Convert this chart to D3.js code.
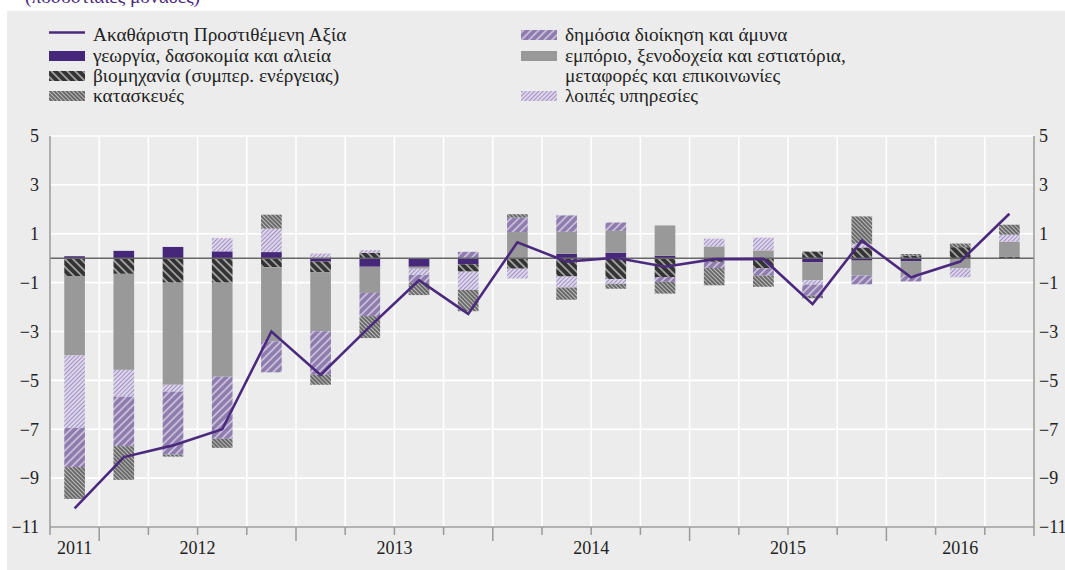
<!DOCTYPE html>
<html><head><meta charset="utf-8">
<script src="https://cdn.jsdelivr.net/npm/d3@7"></script>
<style>
body{margin:0;background:#fff;}
svg{display:block;}
</style>
</head><body>
<svg id="c" width="1065" height="570" font-family="Liberation Serif"></svg>
<script>
// ---- data ----
const quarters = ["2011Q4","2012Q1","2012Q2","2012Q3","2012Q4","2013Q1","2013Q2","2013Q3","2013Q4",
  "2014Q1","2014Q2","2014Q3","2014Q4","2015Q1","2015Q2","2015Q3","2015Q4","2016Q1","2016Q2","2016Q3"];
const years = ["2011","2012","2013","2014","2015","2016"];
const gva      = [-10.24,-8.14,-7.66,-7.0,-3.0,-4.78,-2.8,-0.9,-2.28,0.65,-0.14,0.02,-0.35,-0.04,-0.03,-1.88,0.72,-0.78,-0.14,1.82];
const agri     = [0.08,0.30,0.46,0.28,0.25,-0.14,-0.35,-0.35,-0.25,0,0.18,0.22,0.1,0,0,-0.16,-0.1,-0.12,0,0];
const industry = [-0.73,-0.64,-1.0,-1.0,-0.37,-0.43,0.22,0,-0.30,-0.43,-0.75,-0.85,-0.77,-0.15,-0.41,0.27,0.44,0.10,0.45,0.05];
const trade    = [-3.25,-3.93,-4.18,-3.85,-3.04,-2.42,-1.07,-0.08,0,1.07,0.9,0.9,1.24,0.48,0.32,-0.74,-0.61,-0.58,-0.41,0.63];
const other    = [-2.97,-1.1,-0.28,0.54,0.96,0.19,0.11,-0.26,-0.75,-0.4,-0.45,-0.2,0,0.32,0.52,-0.18,0.15,0,-0.37,0.28];
const publicAd = [-1.6,-2.02,-2.58,-2.54,-1.26,-1.78,-0.95,-0.32,0.26,0.59,0.67,0.34,-0.2,-0.25,-0.3,-0.46,-0.36,-0.25,0,0];
const constr   = [-1.3,-1.38,-0.08,-0.37,0.57,-0.41,-0.9,-0.5,-0.87,0.14,-0.5,-0.2,-0.48,-0.71,-0.46,-0.1,1.12,0.07,0.15,0.41];
const yTicks = [5,3,1,-1,-3,-5,-7,-9,-11];
const gvaName = "Ακαθάριστη Προστιθέμενη Αξία";
const seriesNames = {
  agri: "γεωργία, δασοκομία και αλιεία",
  industry: "βιομηχανία (συμπερ. ενέργειας)",
  constr: "κατασκευές",
  publicAd: "δημόσια διοίκηση και άμυνα",
  trade: ["εμπόριο, ξενοδοχεία και εστιατόρια,", "μεταφορές και επικοινωνίες"],
  other: "λοιπές υπηρεσίες"
};
const subtitle = "(ποσοστιαίες μονάδες)";

(function(){
const FF = "Liberation Serif";
const keys = ["agri","industry","trade","other","publicAd","constr"];
const table = quarters.map((q,i)=>({q, agri:agri[i], industry:industry[i], trade:trade[i], other:other[i], publicAd:publicAd[i], constr:constr[i]}));

const svg = d3.select("#c");
const W = 1065, H = 570;
const pL = 50, pR = 1034, pT = 136, pB = 527;

svg.append("text").attr("x",25).attr("y",2.5).attr("fill","#4b2a7e").attr("font-size",19.3)
  .attr("font-family",FF).text(subtitle);
svg.append("rect").attr("x",7).attr("y",11).attr("width",W-7).attr("height",H-11).attr("fill","#ececec");

// patterns
const defs = svg.append("defs");
function stripes(id, bg, fg, size, lw, angle){
  const p = defs.append("pattern").attr("id",id).attr("patternUnits","userSpaceOnUse")
    .attr("width",size).attr("height",size).attr("patternTransform",`rotate(${angle})`);
  p.append("rect").attr("width",size).attr("height",size).attr("fill",bg);
  p.append("line").attr("x1",size/2).attr("x2",size/2).attr("y1",0).attr("y2",size)
    .attr("stroke",fg).attr("stroke-width",lw);
}
stripes("p-ind","#333333","#cfcfcf",5.6,1.3,-45);
stripes("p-con","#686868","#c4c4c4",2.9,0.9,-45);
stripes("p-pub","#8e7cae","#ece8f2",5.4,1.1,45);
stripes("p-oth","#ddd6ea","#9a89bf",3.0,0.9,45);
const fills = {agri:"#46287a", industry:"url(#p-ind)", trade:"#999999", other:"url(#p-oth)", publicAd:"url(#p-pub)", constr:"url(#p-con)"};

const x = d3.scaleBand().domain(quarters).range([pL,pR]).padding(0);
const y = d3.scaleLinear().domain([-11,5]).range([pB,pT]);
const bw = x.bandwidth()*0.42;

// gridlines
svg.append("g").selectAll("line").data(yTicks).join("line")
  .attr("x1",pL).attr("x2",pR).attr("y1",d=>y(d)).attr("y2",d=>y(d))
  .attr("stroke","#ffffff").attr("stroke-width",1.6);
svg.append("g").selectAll("line").data(quarters.slice(1)).join("line")
  .attr("x1",d=>x(d)).attr("x2",d=>x(d)).attr("y1",pT).attr("y2",pB)
  .attr("stroke","#ffffff").attr("stroke-width",1.6);

// bars
const stack = d3.stack().keys(keys).offset(d3.stackOffsetDiverging)(table);
svg.append("g").selectAll("g").data(stack).join("g")
  .attr("fill",d=>fills[d.key])
  .selectAll("rect").data(d=>d).join("rect")
  .attr("x",d=>x(d.data.q)+(x.bandwidth()-bw)/2)
  .attr("width",bw)
  .attr("y",d=>y(Math.max(d[0],d[1])))
  .attr("height",d=>Math.abs(y(d[0])-y(d[1])));

// zero line
svg.append("line").attr("x1",pL).attr("x2",pR).attr("y1",y(0)).attr("y2",y(0))
  .attr("stroke","#666666").attr("stroke-width",1.5);

// axes frame
svg.append("line").attr("x1",pL).attr("x2",pL).attr("y1",pT).attr("y2",pB).attr("stroke","#9a9a9a").attr("stroke-width",1.5);
svg.append("line").attr("x1",pR).attr("x2",pR).attr("y1",pT).attr("y2",pB+9).attr("stroke","#9a9a9a").attr("stroke-width",1.5);
svg.append("line").attr("x1",pL).attr("x2",pR).attr("y1",pB).attr("y2",pB).attr("stroke","#9a9a9a").attr("stroke-width",1.5);

// x ticks at quarter boundaries
const bounds = quarters.map((q,i)=>({x:x(q), long: i>0 && q.endsWith("Q1")}));
svg.append("g").selectAll("line").data(bounds).join("line")
  .attr("x1",d=>d.x).attr("x2",d=>d.x).attr("y1",pB).attr("y2",d=>pB+(d.long?14:8))
  .attr("stroke","#9a9a9a").attr("stroke-width",1.5);

// year labels
svg.append("g").selectAll("text").data(years).join("text")
  .attr("x",yr=>{const qs=quarters.filter(q=>q.startsWith(yr)); return (x(qs[0])+x(qs[qs.length-1])+x.bandwidth())/2;})
  .attr("y",554).attr("text-anchor","middle").attr("font-size",18).attr("font-family",FF).attr("fill","#222").text(d=>d);

// y axes
const ax1 = svg.append("g").attr("transform",`translate(${pL},0)`)
  .call(d3.axisLeft(y).tickValues(yTicks).tickSize(0).tickPadding(11));
const ax2 = svg.append("g").attr("transform",`translate(${pR},0)`)
  .call(d3.axisRight(y).tickValues(yTicks).tickSize(0).tickPadding(5));
[ax1,ax2].forEach(a=>{a.select(".domain").remove();
  a.attr("font-family",FF).attr("font-size",18);
  a.selectAll("text").attr("font-size",18).attr("fill","#222").attr("font-family",FF);});

// GVA line
const line = d3.line().x((d,i)=>x(quarters[i])+x.bandwidth()/2).y(d=>y(d));
svg.append("path").datum(gva).attr("d",line).attr("fill","none")
  .attr("stroke","#4b2a7e").attr("stroke-width",2.6).attr("stroke-linejoin","miter");

// legend
const lg = svg.append("g").attr("font-size",19.3).attr("font-family",FF).attr("fill","#222");
const c1x = 49, c1t = 93, c2x = 521, c2t = 565;
const rows = [41,62,82,102];
lg.append("line").attr("x1",c1x).attr("x2",c1x+36).attr("y1",rows[0]-8.5).attr("y2",rows[0]-8.5)
  .attr("stroke","#4b2a7e").attr("stroke-width",2.4);
lg.append("text").attr("x",c1t).attr("y",rows[0]).text(gvaName);
const leg = [
  {k:"agri", sx:c1x, tx:c1t, r:1},
  {k:"industry", sx:c1x, tx:c1t, r:2},
  {k:"constr", sx:c1x, tx:c1t, r:3},
  {k:"publicAd", sx:c2x, tx:c2t, r:0},
  {k:"trade", sx:c2x, tx:c2t, r:1},
  {k:"other", sx:c2x, tx:c2t, r:3}
];
leg.forEach(d=>{
  lg.append("rect").attr("x",d.sx).attr("y",rows[d.r]-11).attr("width",36).attr("height",10).attr("fill",fills[d.k]);
  const names = [].concat(seriesNames[d.k]);
  names.forEach((n,j)=>lg.append("text").attr("x",d.tx).attr("y",rows[d.r+j]).text(n));
});
})();
</script>
</body></html>
